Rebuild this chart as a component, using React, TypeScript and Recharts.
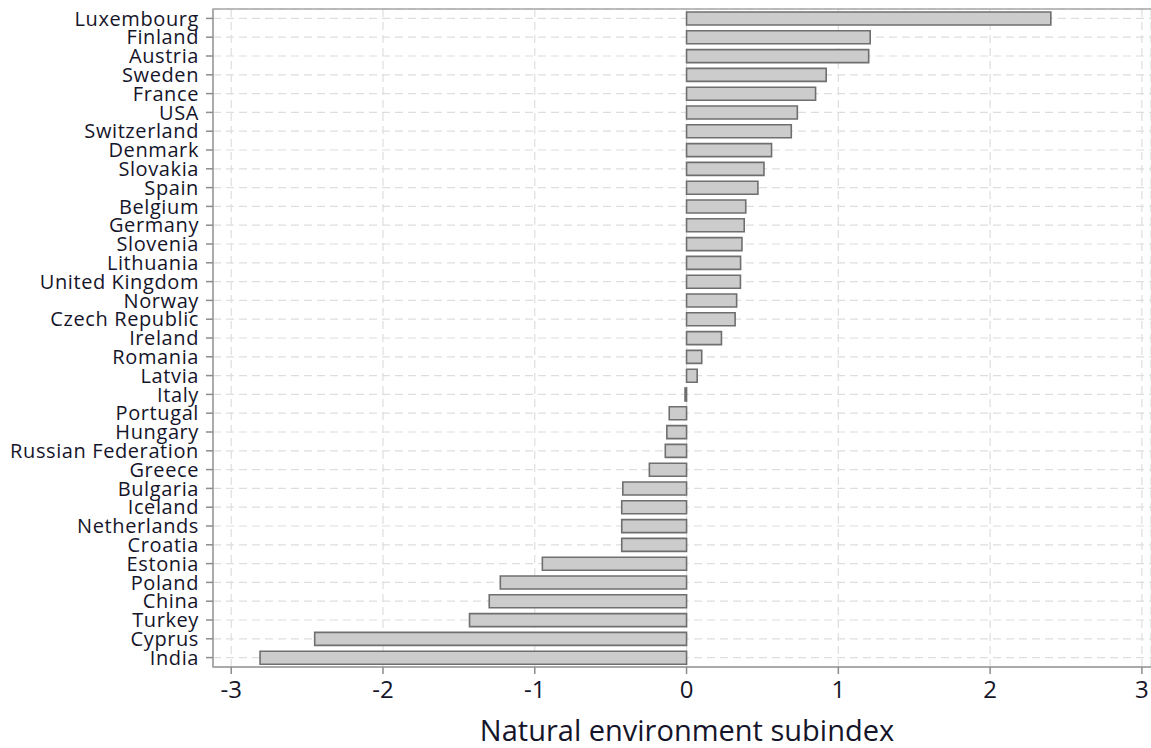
import { BarChart, Bar, XAxis, YAxis, CartesianGrid, ReferenceArea } from 'recharts';

const countries = [
  'Luxembourg', 'Finland', 'Austria', 'Sweden', 'France', 'USA', 'Switzerland',
  'Denmark', 'Slovakia', 'Spain', 'Belgium', 'Germany', 'Slovenia', 'Lithuania',
  'United Kingdom', 'Norway', 'Czech Republic', 'Ireland', 'Romania', 'Latvia',
  'Italy', 'Portugal', 'Hungary', 'Russian Federation', 'Greece', 'Bulgaria',
  'Iceland', 'Netherlands', 'Croatia', 'Estonia', 'Poland', 'China', 'Turkey',
  'Cyprus', 'India',
];

const subindex = [
  2.4, 1.21, 1.2, 0.92, 0.85, 0.73, 0.69,
  0.56, 0.51, 0.47, 0.39, 0.38, 0.365, 0.356,
  0.355, 0.33, 0.32, 0.23, 0.1, 0.07,
  -0.01, -0.114, -0.13, -0.14, -0.245, -0.42,
  -0.427, -0.427, -0.427, -0.95, -1.227, -1.3, -1.43,
  -2.45, -2.81,
];

const xTicks = [-3, -2, -1, 0, 1, 2, 3];

const data = countries.map((name, i) => ({ name, value: subindex[i] }));

const textColor = '#15152a';
const frameColor = '#a6a6a6';
const font = '"Open Sans", sans-serif';
const xDomain = [-3.12, 3.06];

const App = () => {
  return (
    <div style={{ position: 'absolute', left: 0, top: 0, background: '#fff' }}>
      <BarChart
        width={1151}
        height={748}
        data={data}
        layout="vertical"
        margin={{ top: 9, right: 0, left: 0, bottom: 4 }}
        barCategoryGap={3}
      >
        <CartesianGrid stroke="#dedede" strokeDasharray="8 5" strokeWidth={1.2} />
        {/* plot frame (top edge; right edge falls off the canvas like the original) */}
        <ReferenceArea
          x1={-3.12}
          x2={3.09}
          ifOverflow="visible"
          fill="none"
          stroke={frameColor}
          strokeWidth={1.5}
        />
        <XAxis
          type="number"
          dataKey="value"
          domain={xDomain}
          ticks={xTicks}
          allowDataOverflow
          height={77}
          tickSize={7}
          tickMargin={7}
          stroke={frameColor}
          strokeWidth={1.5}
          tickLine={{ stroke: '#8c8c8c' }}
          tick={{ fill: textColor, fontSize: 24, fontFamily: font }}
          label={{
            value: 'Natural environment subindex',
            position: 'insideBottom',
            offset: 3,
            dx: 5,
            style: { fill: textColor, fontSize: 29, fontFamily: font },
          }}
        />
        <YAxis
          type="category"
          dataKey="name"
          width={213}
          interval={0}
          tickSize={7}
          tickMargin={7}
          stroke={frameColor}
          strokeWidth={1.5}
          tickLine={{ stroke: '#8c8c8c' }}
          tick={{ fill: textColor, fontSize: 20, fontFamily: font, letterSpacing: 0.6 }}
        />
        <Bar
          dataKey="value"
          fill="#cccccc"
          stroke="#6f6f6f"
          strokeWidth={1.6}
          barSize={13}
          isAnimationActive={false}
        />
      </BarChart>
    </div>
  );
};

export default App;
